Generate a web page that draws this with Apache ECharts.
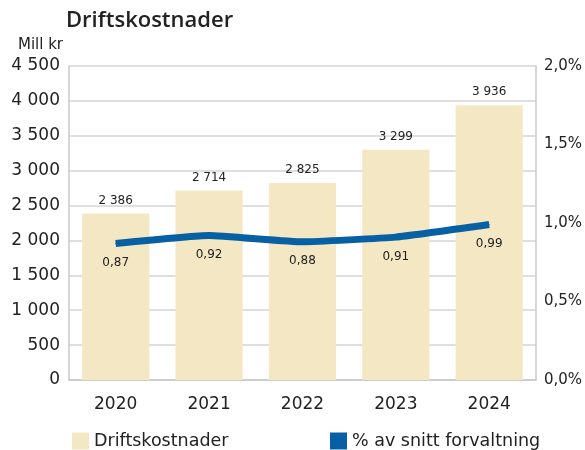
<!DOCTYPE html>
<html><head><meta charset="utf-8">
<script src="https://cdn.jsdelivr.net/npm/echarts@6/dist/echarts.min.js"></script>
<style>html,body{margin:0;padding:0;background:#fff}#c{width:585px;height:450px}</style>
</head><body><div id="c"></div>
<script>
const years = ['2020','2021','2022','2023','2024'];
const costs = [2386, 2714, 2825, 3299, 3936];
const pct = [0.87, 0.92, 0.88, 0.91, 0.99];
const leftTicks = {min:0, max:4500, interval:500};
const rightTicks = {min:0, max:2, interval:0.5};
const FONT = 'DejaVu Sans';
const fmtThousands = v => String(v).replace(/\B(?=(\d{3})+(?!\d))/g, '\u00a0');
const chart = echarts.init(document.getElementById('c'), null, {renderer:'canvas'});
chart.setOption({
  animation:false,
  textStyle:{fontFamily:FONT},
  title:{text:'Driftskostnader', left:61, top:5, textStyle:{fontFamily:'Open Sans', fontSize:22, fontWeight:600, color:'#222'}},
  grid:{left:69, right:47, top:66, bottom:70, containLabel:false},
  legend:[
    {data:['Driftskostnader'], left:67, top:427, itemWidth:17, itemHeight:17, icon:'rect', itemGap:7,
     textStyle:{fontSize:17.5, color:'#222', fontFamily:FONT}},
    {data:['% av snitt forvaltning'], left:325, top:427, itemWidth:17, itemHeight:17, icon:'rect', itemGap:7,
     textStyle:{fontSize:17.5, color:'#222', fontFamily:FONT}}
  ],
  xAxis:{type:'category', data:years, axisTick:{show:false},
    axisLine:{lineStyle:{color:'#c8c8c8', width:1.5}},
    axisLabel:{fontSize:17, color:'#222', margin:16, fontFamily:FONT}},
  yAxis:[
    {type:'value', min:leftTicks.min, max:leftTicks.max, interval:leftTicks.interval,
     name:'Mill kr', nameLocation:'end', nameGap:13, nameTextStyle:{fontSize:15, color:'#222', align:'right', padding:[0,6,0,0], fontFamily:FONT},
     axisLine:{show:true, lineStyle:{color:'#c8c8c8', width:1.5}}, axisTick:{show:false},
     splitLine:{lineStyle:{color:'#d4d4d4', width:1.5}},
     axisLabel:{fontSize:17, color:'#222', margin:9, formatter:v=>fmtThousands(v), fontFamily:FONT}},
    {type:'value', min:rightTicks.min, max:rightTicks.max, interval:rightTicks.interval, position:'right',
     axisLine:{show:true, lineStyle:{color:'#c8c8c8', width:1.5}}, axisTick:{show:false}, splitLine:{show:false},
     axisLabel:{fontSize:15, color:'#222', margin:8, formatter:v=>v.toFixed(1).replace('.',',')+'%', fontFamily:FONT}}
  ],
  series:[
    {name:'Driftskostnader', type:'bar', data:costs, barWidth:'72%', itemStyle:{color:'#f4e8c4'},
     label:{show:true, position:'top', distance:7, fontSize:12, color:'#222', fontFamily:FONT, formatter:p=>fmtThousands(p.value)}},
    {name:'% av snitt forvaltning', type:'line', yAxisIndex:1, data:pct, smooth:0.12, showSymbol:true, symbol:'circle', symbolSize:1,
     lineStyle:{color:'#0660a3', width:7, cap:'butt'}, itemStyle:{color:'#0660a3'},
     label:{show:true, position:'bottom', distance:13, fontSize:12, color:'#222', fontFamily:FONT, formatter:p=>p.value.toFixed(2).replace('.',',')}}
  ]
});
</script></body></html>
